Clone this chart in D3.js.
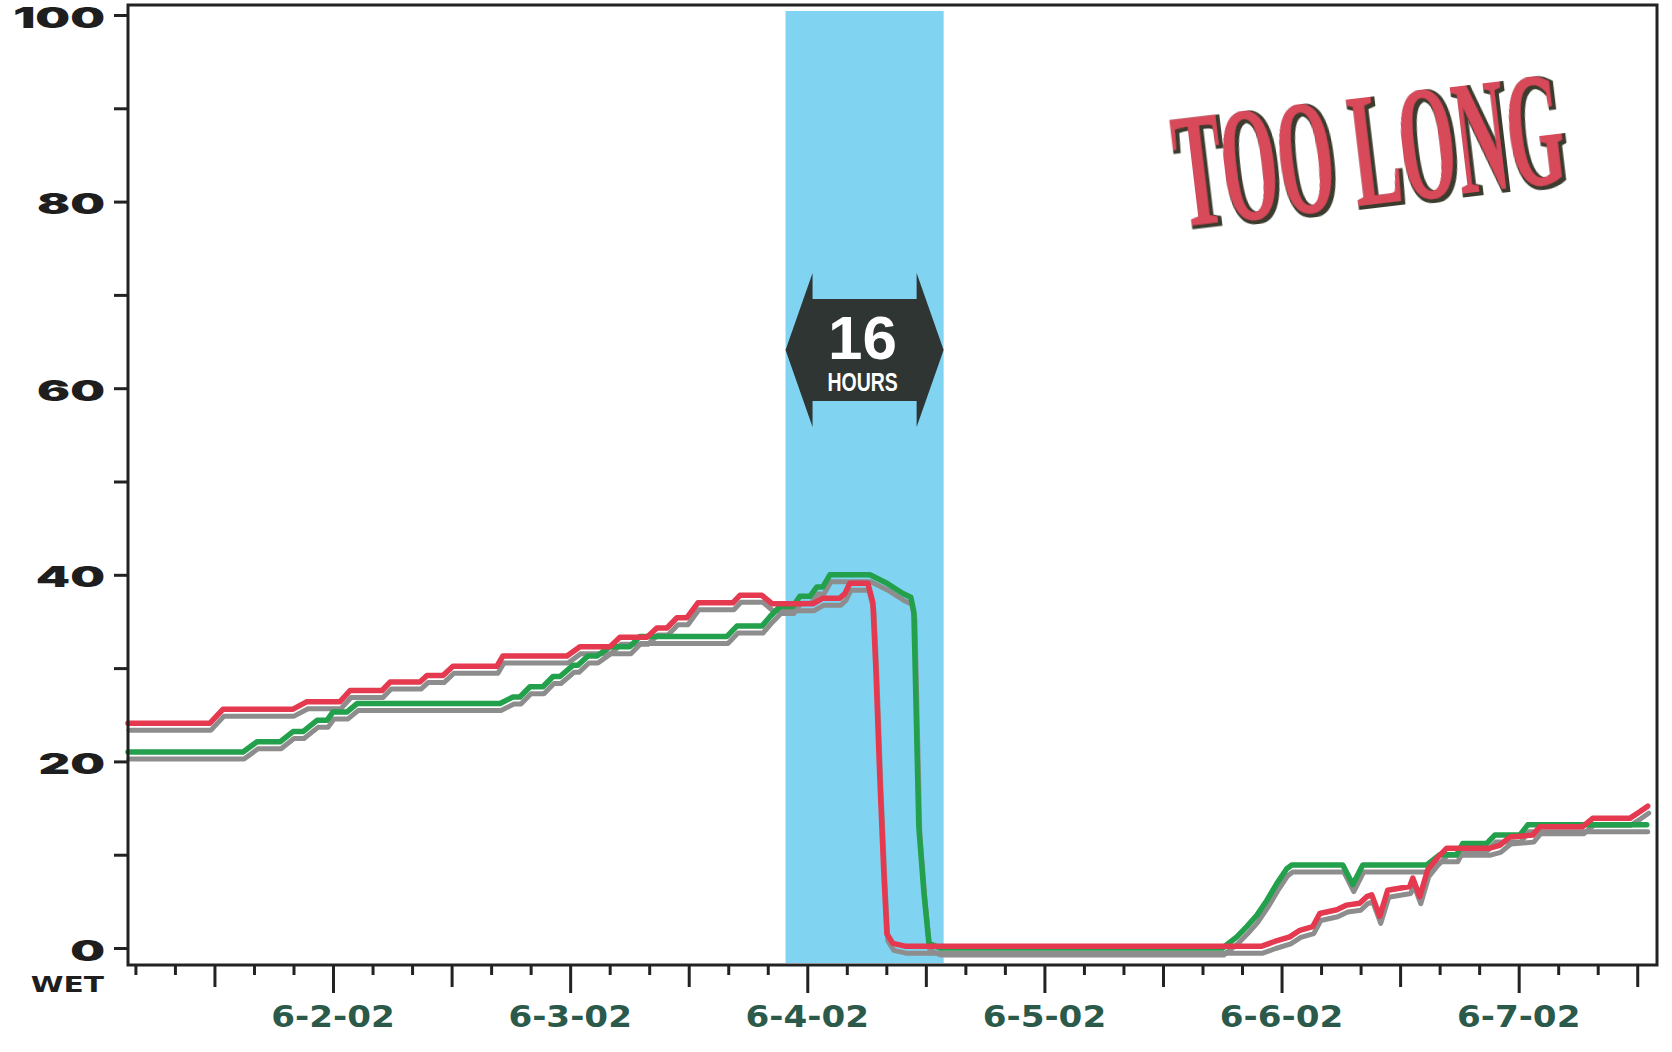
<!DOCTYPE html>
<html>
<head>
<meta charset="utf-8">
<script src="https://cdn.jsdelivr.net/npm/d3@7"></script>
<style>
  html, body { margin: 0; padding: 0; background: #ffffff; }
  svg { display: block; }
</style>
</head>
<body>
<svg id="chart" width="1672" height="1052"></svg>
<script>
// Time is counted in hours from 6-1-02 00:00.
const startDate = new Date(2002, 5, 1, 0, 0, 0);
const hoursDomain = [3.25, 158];

const yTicks = [0, 10, 20, 30, 40, 50, 60, 70, 80, 90, 100];
const yLabelled = [0, 20, 40, 60, 80, 100];
const yBottomLabel = "WET";

const dayHours = [24, 48, 72, 96, 120, 144];
const dayLabels = ["6-2-02", "6-3-02", "6-4-02", "6-5-02", "6-6-02", "6-7-02"];

// Drying window shown by the blue band
const bandStartHour = 69.8;
const bandHours = 16;
const bandTitle = "16";
const bandUnit = "HOURS";
const verdict = "TOO LONG";

// [hour, moisture] readings
const redSeries = [
  [3.25, 24.1], [11.55, 24.1], [12.87, 25.6], [19.95, 25.6], [21.37, 26.4],
  [24.71, 26.4], [25.72, 27.6], [28.96, 27.6], [29.77, 28.5], [32.80, 28.5],
  [33.51, 29.2], [35.13, 29.2], [36.14, 30.2], [40.59, 30.2], [41.20, 31.3],
  [47.68, 31.3], [48.99, 32.3], [52.03, 32.3], [53.04, 33.3], [55.77, 33.3],
  [56.78, 34.3], [57.80, 34.3], [58.81, 35.4], [59.82, 35.4], [60.93, 37.0],
  [64.47, 37.0], [65.18, 37.8], [67.41, 37.8], [68.42, 36.9], [72.57, 36.9],
  [73.58, 37.5], [75.30, 37.5], [75.81, 38.0], [76.31, 39.1], [78.13, 39.1],
  [78.64, 37.0], [78.94, 30.0], [79.35, 18.0], [79.75, 8.0], [80.06, 1.5],
  [80.66, 0.5], [81.88, 0.2], [118.0, 0.2], [119.31, 0.7], [120.83, 1.2],
  [121.85, 1.9], [123.16, 2.3], [123.87, 3.7], [125.59, 4.1], [126.60, 4.6],
  [127.91, 4.8], [128.62, 5.5], [129.13, 5.7], [129.94, 3.4], [130.75, 6.2],
  [132.98, 6.6], [133.28, 7.5], [133.99, 5.5], [134.80, 8.4], [135.71, 9.6],
  [136.72, 10.7], [141.07, 10.7], [142.08, 11.0], [143.10, 11.9], [145.42, 12.1],
  [146.13, 13.0], [150.48, 13.0], [151.49, 13.9], [155.24, 13.9], [156.25, 14.6],
  [157.06, 15.2]
];

const greenSeries = [
  [3.25, 21.0], [14.89, 21.0], [16.31, 22.1], [18.64, 22.1], [19.95, 23.2],
  [20.96, 23.2], [22.38, 24.4], [23.39, 24.4], [24.00, 25.3], [25.42, 25.3],
  [26.43, 26.2], [40.90, 26.2], [42.21, 26.9], [42.92, 26.9], [43.93, 28.0],
  [45.25, 28.0], [46.26, 29.1], [46.97, 29.1], [48.28, 30.3], [48.79, 30.3],
  [49.80, 31.3], [50.71, 31.3], [52.03, 32.3], [54.05, 32.3], [55.06, 33.4],
  [63.87, 33.4], [64.88, 34.5], [67.41, 34.5], [68.22, 35.5], [69.23, 36.6],
  [70.54, 36.6], [71.25, 37.7], [72.27, 37.7], [72.97, 38.7], [73.58, 38.7],
  [74.29, 40.0], [78.34, 40.0], [80.06, 39.1], [81.68, 38.0], [82.48, 37.6],
  [82.79, 36.0], [83.29, 13.0], [83.80, 6.0], [84.31, 0.5], [85.42, 0.0],
  [114.05, 0.0], [115.47, 1.2], [116.48, 2.3], [117.49, 3.5], [118.51, 5.1],
  [119.52, 6.9], [120.53, 8.5], [121.04, 8.9], [126.20, 8.9], [127.21, 6.8],
  [128.22, 8.9], [134.70, 8.9], [136.01, 10.0], [137.73, 10.0], [138.34, 11.2],
  [140.77, 11.2], [141.58, 12.1], [144.11, 12.1], [144.92, 13.2], [156.96, 13.2]
];

const toDate = h => new Date(startDate.getTime() + h * 3600e3);
const hourOf = d => Math.round((d - startDate) / 3600e3);

const svg = d3.select("#chart");
const plotLeft = 128, plotRight = 1657, plotTop = 5, plotBottom = 965;

const x = d3.scaleTime().domain(hoursDomain.map(toDate)).range([plotLeft, plotRight]);
const y = d3.scaleLinear().domain([-1.82, 101.07]).range([plotBottom, plotTop]);

// filter: dark rim on the headline lettering
const defs = svg.append("defs");
const rim = defs.append("filter").attr("id", "rim")
  .attr("filterUnits", "userSpaceOnUse")
  .attr("x", -260).attr("y", -180).attr("width", 520).attr("height", 260);
rim.append("feMorphology").attr("in", "SourceAlpha").attr("operator", "dilate")
  .attr("radius", 1.8).attr("result", "fat");
rim.append("feOffset").attr("in", "fat").attr("dx", 1.6).attr("dy", 2.2).attr("result", "shift");
rim.append("feFlood").attr("flood-color", "#3b3a2e");
rim.append("feComposite").attr("in2", "shift").attr("operator", "in").attr("result", "edge");
const rm = rim.append("feMerge");
rm.append("feMergeNode").attr("in", "edge");
rm.append("feMergeNode").attr("in", "SourceGraphic");

// blue drying band
const bx0 = x(toDate(bandStartHour));
const bx1 = x(toDate(bandStartHour + bandHours));
svg.append("rect")
  .attr("x", bx0).attr("y", plotTop + 6)
  .attr("width", bx1 - bx0).attr("height", plotBottom - plotTop - 8)
  .attr("fill", "#80d3f1");

// moisture lines
const line = d3.line()
  .x(d => x(toDate(d[0])))
  .y(d => y(d[1]));

const series = [
  { data: greenSeries, color: "#22a04b" },
  { data: redSeries, color: "#e4394e" }
];

const plot = svg.append("g");
series.forEach(s => {
  plot.append("path")
    .attr("d", line(s.data))
    .attr("transform", "translate(1,7)")
    .attr("fill", "none")
    .attr("stroke", "#8d8d8d")
    .attr("stroke-width", 5)
    .attr("stroke-linejoin", "round")
    .attr("stroke-linecap", "round");
});
series.forEach(s => {
  plot.append("path")
    .attr("d", line(s.data))
    .attr("fill", "none")
    .attr("stroke", s.color)
    .attr("stroke-width", 5.5)
    .attr("stroke-linejoin", "round")
    .attr("stroke-linecap", "round");
});

// double-headed arrow badge across the band
const cy = y(64.1);
const headW = 27, headH = 77, bodyH = 51;
const badge = [
  [bx0, cy], [bx0 + headW, cy - headH], [bx0 + headW, cy - bodyH],
  [bx1 - headW, cy - bodyH], [bx1 - headW, cy - headH], [bx1, cy],
  [bx1 - headW, cy + headH], [bx1 - headW, cy + bodyH],
  [bx0 + headW, cy + bodyH], [bx0 + headW, cy + headH]
];
svg.append("polygon")
  .attr("points", badge.map(p => p.join(",")).join(" "))
  .attr("fill", "#2e3533");
const bcx = (bx0 + bx1) / 2 - 2;
svg.append("text")
  .attr("x", bcx).attr("y", cy + 9)
  .attr("text-anchor", "middle")
  .attr("font-family", "'Liberation Sans', Arial, sans-serif")
  .attr("font-weight", "bold")
  .attr("font-size", 62)
  .attr("fill", "#ffffff")
  .text(bandTitle);
svg.append("text")
  .attr("transform", `translate(${bcx},${cy + 41}) scale(0.78,1)`)
  .attr("text-anchor", "middle")
  .attr("font-family", "'Liberation Sans', Arial, sans-serif")
  .attr("font-weight", "bold")
  .attr("font-size", 25)
  .attr("fill", "#ffffff")
  .text(bandUnit);

// headline
const head = svg.append("g")
  .attr("transform", "translate(1375,204) rotate(-6.8)")
  .attr("filter", "url(#rim)");
head.append("text")
  .attr("transform", "scale(0.444,1)")
  .attr("text-anchor", "middle")
  .attr("font-family", "'Liberation Serif', 'Times New Roman', serif")
  .attr("font-weight", "bold")
  .attr("font-size", 163)
  .attr("fill", "#d8485a")
  .text(verdict);

// y axis
const yAxis = d3.axisLeft(y)
  .tickValues(yTicks)
  .tickSize(14)
  .tickSizeOuter(0)
  .tickFormat(d => yLabelled.includes(d) ? String(d) : "");
const gy = svg.append("g").attr("transform", `translate(${plotLeft},0)`).call(yAxis);
gy.select(".domain").remove();
gy.selectAll(".tick line").attr("stroke", "#222").attr("stroke-width", 3);
gy.selectAll(".tick text")
  .attr("x", 0).attr("dy", "0.43em")
  .attr("transform", "translate(-23,0) scale(1.75,1)")
  .attr("text-anchor", "end")
  .attr("font-family", "Inter, 'DejaVu Sans', sans-serif")
  .attr("font-weight", 900)
  .attr("font-size", 28)
  .attr("fill", "#1e1e1e");
svg.append("text")
  .attr("transform", `translate(104,${y(0) + 44}) scale(1.35,1)`)
  .attr("text-anchor", "end")
  .attr("font-family", "'DejaVu Sans', sans-serif")
  .attr("font-weight", "bold")
  .attr("font-size", 22)
  .attr("fill", "#1e1e1e")
  .text(yBottomLabel);

// x axis: a tick every 4 hours, longer at noon, longest at midnight
const tickHours = d3.range(4, 157, 4);
const xAxis = d3.axisBottom(x)
  .tickValues(tickHours.map(toDate))
  .tickSize(10)
  .tickSizeOuter(0)
  .tickFormat("");
const gx = svg.append("g").attr("transform", `translate(0,${plotBottom})`).call(xAxis);
gx.select(".domain").remove();
gx.selectAll(".tick line")
  .attr("stroke", "#222").attr("stroke-width", 3)
  .attr("y2", d => hourOf(d) % 24 === 0 ? 28 : (hourOf(d) % 12 === 0 ? 22 : 10));

svg.append("g").selectAll("text")
  .data(dayHours)
  .join("text")
  .attr("transform", (h) => `translate(${x(toDate(h))},${plotBottom + 62}) scale(1.14,1)`)
  .attr("text-anchor", "middle")
  .attr("font-family", "'DejaVu Sans', sans-serif")
  .attr("font-weight", "bold")
  .attr("font-size", 30)
  .attr("fill", "#2b5a4a")
  .text((h, i) => dayLabels[i]);

// plot frame
svg.append("rect")
  .attr("x", plotLeft).attr("y", plotTop)
  .attr("width", plotRight - plotLeft).attr("height", plotBottom - plotTop)
  .attr("fill", "none")
  .attr("stroke", "#222")
  .attr("stroke-width", 3);
</script>
</body>
</html>
